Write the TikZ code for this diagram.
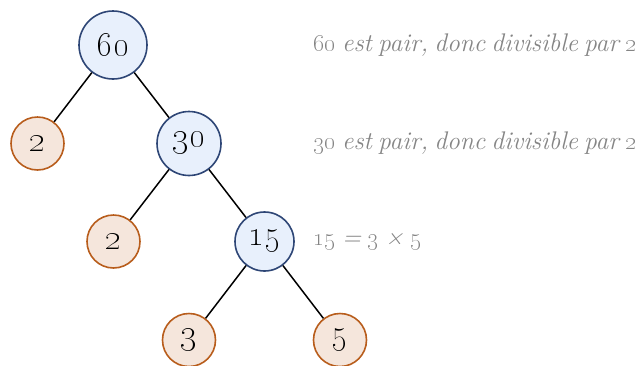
\documentclass[tikz,border=0pt]{standalone}
\usepackage{xcolor}
\definecolor{bfill}{HTML}{E8F0FC}
\definecolor{bdraw}{HTML}{2E4676}
\definecolor{ofill}{HTML}{F5E6DC}
\definecolor{odraw}{HTML}{B85D1C}
\definecolor{note}{HTML}{858585}
\newcommand{\mynotefont}{\fontsize{25.5}{25.5}\selectfont\itshape\spaceskip 0.24em\relax}
\newcommand{\mynumfont}{\fontsize{34}{34}\selectfont}
\begin{document}
\begin{tikzpicture}[x=1pt,y=-1pt,
  comp/.style={circle,draw=bdraw,fill=bfill,line width=1.6pt,inner sep=0pt,font=\mynumfont},
  prime/.style={circle,draw=odraw,fill=ofill,line width=1.6pt,inner sep=0pt,minimum size=53pt,font=\mynumfont},
  edge/.style={line width=1.5pt,black},
  notetxt/.style={anchor=west,text=note,inner sep=0pt,font=\mynotefont}]
\useasboundingbox (0,0) rectangle (641,365);
\node[comp,minimum size=68pt] (n60) at (113,45) {\oldstylenums{60}};
\node[prime] (a2) at (37.5,143.5) {\oldstylenums{2}};
\node[comp,minimum size=64pt] (n30) at (189,143.5) {\oldstylenums{30}};
\node[prime] (b2) at (113.5,241.5) {\oldstylenums{2}};
\node[comp,minimum size=59pt] (n15) at (264.5,241.5) {\oldstylenums{15}};
\node[prime] (p3) at (189,340) {\oldstylenums{3}};
\node[prime] (p5) at (340,340) {\oldstylenums{5}};
\draw[edge] (n60) -- (a2);
\draw[edge] (n60) -- (n30);
\draw[edge] (n30) -- (b2);
\draw[edge] (n30) -- (n15);
\draw[edge] (n15) -- (p3);
\draw[edge] (n15) -- (p5);
\node[notetxt] (t1) at (313,45) {\oldstylenums{60} est pair, donc divisible par \oldstylenums{2}};
\node[notetxt] (t2) at (313,143.5) {\oldstylenums{30} est pair, donc divisible par \oldstylenums{2}};
\node[notetxt] (t3) at (313,241.5) {\oldstylenums{15} = \oldstylenums{3} × \oldstylenums{5}};
\end{tikzpicture}
\end{document}
